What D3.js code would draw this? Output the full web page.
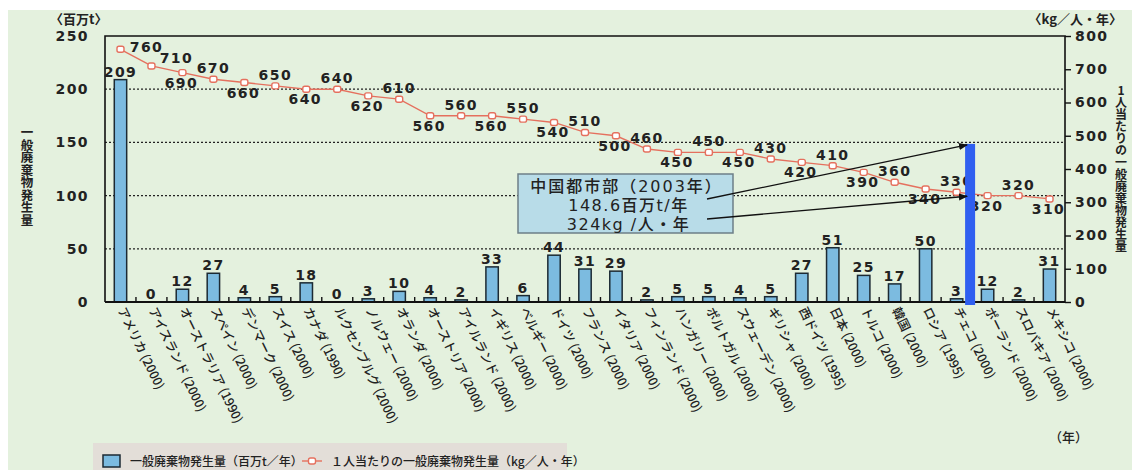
<!DOCTYPE html>
<html>
<head>
<meta charset="utf-8">
<script src="https://cdn.jsdelivr.net/npm/d3@7"></script>
<style>
  body { margin: 0; background: #fff; }
  svg text { font-family: "DejaVu Sans", "Noto Sans CJK JP", sans-serif; fill: #222; }
  .num { font-size: 14px; font-weight: bold; letter-spacing: 1.4px; }
  .jp { font-family: "Noto Sans CJK JP", sans-serif; }
</style>
</head>
<body>
<div id="chart"></div>
<script>
// countries and survey years
const countries = ['アメリカ', 'アイスランド', 'オーストラリア', 'スペイン', 'デンマーク', 'スイス', 'カナダ',
  'ルクセンブルグ', 'ノルウェー', 'オランダ', 'オーストリア', 'アイルランド', 'イギリス', 'ベルギー', 'ドイツ',
  'フランス', 'イタリア', 'フィンランド', 'ハンガリー', 'ポルトガル', 'スウェーデン', 'ギリシャ', '西ドイツ',
  '日本', 'トルコ', '韓国', 'ロシア', 'チェコ', 'ポーランド', 'スロバキア', 'メキシコ'];
const years = ['2000', '2000', '1990', '2000', '2000', '2000', '1990', '2000', '2000', '2000', '2000', '2000',
  '2000', '2000', '2000', '2000', '2000', '2000', '2000', '2000', '2000', '2000', '1995', '2000', '2000', '2000',
  '1995', '2000', '2000', '2000', '2000'];

// 一般廃棄物発生量 (百万t/年)
const totalWaste = [209, 0, 12, 27, 4, 5, 18, 0, 3, 10, 4, 2, 33, 6, 44, 31, 29, 2, 5, 5, 4, 5, 27, 51, 25, 17,
  50, 3, 12, 2, 31];
// 1人当たり (kg/人・年)
const perCapita = [760, 710, 690, 670, 660, 650, 640, 640, 620, 610, 560, 560, 560, 550, 540, 510, 500, 460,
  450, 450, 450, 430, 420, 410, 390, 360, 340, 330, 320, 320, 310];

// China urban areas (2003)
const chinaTotal = 148.6;
const chinaPerCapita = 324;
const chinaLines = ['中国都市部（2003年）', '148.6百万t/年', '324kg /人・年'];

const leftTicks = [0, 50, 100, 150, 200, 250];
const rightTicks = [0, 100, 200, 300, 400, 500, 600, 700, 800];
const gridTicks = [50, 100, 150, 200];

const W = 1132, H = 470;
const plot = { left: 105, right: 1065, top: 36, bottom: 302 };

const data = countries.map((c, i) => ({ name: c, year: years[i], total: totalWaste[i], per: perCapita[i], i }));

const svg = d3.select('#chart').append('svg')
    .attr('width', W)
    .attr('height', H);

// background
svg.append('rect')
    .attr('x', 8).attr('y', 10)
    .attr('width', W - 8).attr('height', H - 10)
    .attr('fill', '#e4f1de');

const x = d3.scaleBand()
    .domain(d3.range(countries.length))
    .range([plot.left, plot.right])
    .paddingInner(0.6)
    .paddingOuter(0.3);
const cx = i => x(i) + x.bandwidth() / 2;

const yL = d3.scaleLinear().domain([0, 250]).range([plot.bottom, plot.top]);
const yR = d3.scaleLinear().domain([0, 800]).range([plot.bottom, plot.top]);

// grid
svg.append('g')
  .selectAll('line')
  .data(gridTicks)
  .join('line')
    .attr('x1', plot.left).attr('x2', plot.right)
    .attr('y1', d => yL(d)).attr('y2', d => yL(d))
    .attr('stroke', '#222')
    .attr('stroke-width', 1.2)
    .attr('stroke-dasharray', '2,2');

// frame
svg.append('path')
    .attr('d', `M${plot.left},${plot.bottom}V${plot.top}H${plot.right}V${plot.bottom}`)
    .attr('fill', 'none')
    .attr('stroke', '#111')
    .attr('stroke-width', 1.6);

// left axis
const leftAxis = svg.append('g')
    .attr('transform', `translate(${plot.left - 16},0)`)
    .call(d3.axisLeft(yL).tickValues(leftTicks).tickSize(0).tickPadding(0));
leftAxis.select('.domain').remove();
leftAxis.selectAll('text').attr('class', 'num').attr('fill', '#222');

// right axis
const rightAxis = svg.append('g')
    .attr('transform', `translate(${plot.right},0)`)
    .call(d3.axisRight(yR).tickValues(rightTicks).tickSize(6).tickPadding(4));
rightAxis.select('.domain').remove();
rightAxis.selectAll('line').attr('stroke', '#111').attr('stroke-width', 1.4);
rightAxis.selectAll('text').attr('class', 'num').attr('fill', '#222');

// bottom ticks between categories
svg.append('g')
  .selectAll('line')
  .data(d3.range(countries.length + 1).slice(1, -1))
  .join('line')
    .attr('x1', i => cx(i) - x.step() / 2).attr('x2', i => cx(i) - x.step() / 2)
    .attr('y1', plot.bottom).attr('y2', plot.bottom - 5)
    .attr('stroke', '#111')
    .attr('stroke-width', 1.4);

// bars
svg.append('g')
  .selectAll('rect')
  .data(data)
  .join('rect')
    .attr('x', d => x(d.i))
    .attr('y', d => yL(d.total))
    .attr('width', x.bandwidth())
    .attr('height', d => plot.bottom - yL(d.total))
    .attr('fill', '#7cbbe0')
    .attr('stroke', '#1c2a33')
    .attr('stroke-width', 1.5);

svg.append('g')
  .selectAll('text')
  .data(data)
  .join('text')
    .attr('class', 'num')
    .attr('x', d => cx(d.i))
    .attr('y', d => yL(d.total) - 3)
    .attr('text-anchor', 'middle')
    .text(d => d.total);

// baseline
svg.append('line')
    .attr('x1', plot.left).attr('x2', plot.right)
    .attr('y1', plot.bottom).attr('y2', plot.bottom)
    .attr('stroke', '#111')
    .attr('stroke-width', 2);

// per capita line
const lineColor = '#e5705e';
svg.append('path')
    .datum(data)
    .attr('fill', 'none')
    .attr('stroke', lineColor)
    .attr('stroke-width', 1.4)
    .attr('d', d3.line().x(d => cx(d.i)).y(d => yR(d.per)));

svg.append('g')
  .selectAll('rect')
  .data(data)
  .join('rect')
    .attr('x', d => cx(d.i) - 3.5)
    .attr('y', d => yR(d.per) - 3)
    .attr('width', 7).attr('height', 6)
    .attr('rx', 2)
    .attr('fill', '#fff')
    .attr('stroke', lineColor)
    .attr('stroke-width', 1.4);

// labels alternate above / below the line
function labelPos(d) {
  const px = cx(d.i), py = yR(d.per);
  if (d.i === 0) return [px + 26, py + 3];
  if (d.i === 1) return [px + 25, py - 3];
  return d.i % 2 ? [px, py - 6] : [px - 1, py + 15];
}
svg.append('g')
  .selectAll('text')
  .data(data)
  .join('text')
    .attr('class', 'num')
    .attr('text-anchor', 'middle')
    .attr('x', d => labelPos(d)[0])
    .attr('y', d => labelPos(d)[1])
    .text(d => d.per);

// x labels
svg.append('g')
  .selectAll('text')
  .data(data)
  .join('text')
    .attr('class', 'jp')
    .attr('font-size', 12.5)
    .attr('font-weight', 500)
    .attr('transform', d => `translate(${cx(d.i) - 3},${plot.bottom + 8}) rotate(64)`)
    .text(d => `${d.name} (${d.year})`);

// China highlight bar, placed between チェコ and ポーランド
const chinaX = (cx(27) + cx(28)) / 2 - 2;
svg.append('rect')
    .attr('x', chinaX - 5)
    .attr('y', yL(chinaTotal))
    .attr('width', 10)
    .attr('height', plot.bottom + 3 - yL(chinaTotal))
    .attr('fill', '#2f5ff0');

// callout
const box = { x: 518, y: 174, w: 215, h: 59 };
svg.append('rect')
    .attr('x', box.x).attr('y', box.y)
    .attr('width', box.w).attr('height', box.h)
    .attr('fill', '#b8dce8')
    .attr('stroke', '#6d7f88')
    .attr('stroke-width', 1.5);

svg.append('g')
  .selectAll('text')
  .data(chinaLines)
  .join('text')
    .attr('x', (d, i) => box.x + box.w / 2 + (i === 0 ? 1 : 3))
    .attr('y', (d, i) => box.y + 18 + i * 19)
    .attr('text-anchor', 'middle')
    .attr('font-size', 16)
    .attr('letter-spacing', (d, i) => i === 0 ? 2 : 1.5)
    .attr('font-family', '"Noto Sans CJK JP", sans-serif')
    .attr('font-weight', 500)
    .text(d => d);

svg.append('defs').append('marker')
    .attr('id', 'arrow')
    .attr('viewBox', '0 0 10 10')
    .attr('refX', 9).attr('refY', 5)
    .attr('markerWidth', 7).attr('markerHeight', 7)
    .attr('orient', 'auto')
  .append('path')
    .attr('d', 'M0,1L10,5L0,9Z')
    .attr('fill', '#111');

svg.append('line')
    .attr('x1', 707).attr('y1', 199)
    .attr('x2', chinaX - 3).attr('y2', yL(chinaTotal) + 1)
    .attr('stroke', '#111').attr('stroke-width', 1.3)
    .attr('marker-end', 'url(#arrow)');
svg.append('line')
    .attr('x1', 707).attr('y1', 219)
    .attr('x2', chinaX - 3).attr('y2', yR(chinaPerCapita) + 2)
    .attr('stroke', '#111').attr('stroke-width', 1.3)
    .attr('marker-end', 'url(#arrow)');

// units and axis titles
svg.append('text')
    .attr('class', 'jp')
    .attr('x', 50).attr('y', 24)
    .attr('font-size', 13)
    .attr('font-weight', 'bold')
    .text('〈百万t〉');
svg.append('text')
    .attr('class', 'jp')
    .attr('x', 1122).attr('y', 24)
    .attr('text-anchor', 'end')
    .attr('font-size', 13)
    .attr('font-weight', 'bold')
    .text('〈kg／人・年〉');
svg.append('text')
    .attr('class', 'jp')
    .attr('x', 1088).attr('y', 442)
    .attr('text-anchor', 'end')
    .attr('font-size', 13)
    .attr('font-weight', 500)
    .text('（年）');

svg.append('text')
    .attr('class', 'jp')
    .attr('x', 27).attr('y', 126)
    .attr('font-size', 12.5)
    .attr('font-weight', 'bold')
    .style('writing-mode', 'vertical-rl')
    .text('一般廃棄物発生量');
svg.append('text')
    .attr('class', 'jp')
    .attr('x', 1121).attr('y', 84)
    .attr('font-size', 12)
    .attr('font-weight', 'bold')
    .style('writing-mode', 'vertical-rl')
    .style('text-orientation', 'upright')
    .text('1人当たりの一般廃棄物発生量');

// legend
const legend = svg.append('g');
legend.append('rect')
    .attr('x', 93).attr('y', 443)
    .attr('width', 474).attr('height', 30)
    .attr('fill', '#e3ded8');
legend.append('rect')
    .attr('x', 103).attr('y', 455)
    .attr('width', 17).attr('height', 12)
    .attr('fill', '#7cbbe0')
    .attr('stroke', '#1c2a33')
    .attr('stroke-width', 1.5);
legend.append('text')
    .attr('class', 'jp')
    .attr('x', 130).attr('y', 466)
    .attr('font-size', 12)
    .attr('font-weight', 500)
    .text('一般廃棄物発生量（百万t／年）');
legend.append('line')
    .attr('x1', 302).attr('x2', 322)
    .attr('y1', 461).attr('y2', 461)
    .attr('stroke', lineColor).attr('stroke-width', 1.4);
legend.append('rect')
    .attr('x', 308.5).attr('y', 458)
    .attr('width', 7).attr('height', 6).attr('rx', 2)
    .attr('fill', '#fff')
    .attr('stroke', lineColor).attr('stroke-width', 1.4);
legend.append('text')
    .attr('class', 'jp')
    .attr('x', 331).attr('y', 466)
    .attr('font-size', 12)
    .attr('font-weight', 500)
    .text('１人当たりの一般廃棄物発生量（kg／人・年）');
</script>
</body>
</html>
